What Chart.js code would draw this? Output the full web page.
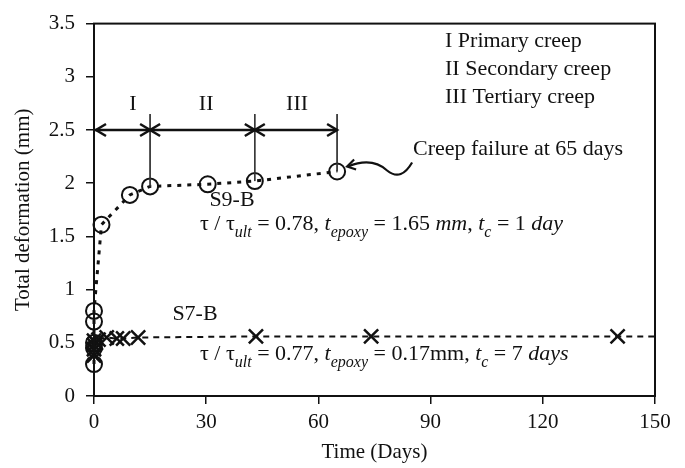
<!DOCTYPE html>
<html><head><meta charset="utf-8">
<script src="https://cdn.jsdelivr.net/npm/chart.js@4.4.1/dist/chart.umd.min.js"></script>
<style>html,body{margin:0;padding:0;background:#fff;}</style>
</head><body>
<canvas id="c" width="685" height="468"></canvas>
<script>
// ---- data ----
const s9Days = [0, 0, 0, 0, 0, 2, 9.6, 15, 30.4, 43, 65];
const s9Def  = [0.30, 0.45, 0.50, 0.70, 0.80, 1.61, 1.89, 1.97, 1.99, 2.02, 2.11];
const s7Days = [0, 0, 0, 0, 0.5, 1.2, 3.4, 6.1, 7.8, 11.8, 43.3, 74.1, 140, 150];
const s7Def  = [0.38, 0.44, 0.48, 0.52, 0.50, 0.53, 0.55, 0.54, 0.54, 0.55, 0.56, 0.56, 0.56, 0.56];
const phaseDays = [0, 15, 43, 65];
const phaseDef = [1.97, 2.02, 2.11];     // deformation where each phase boundary line ends
const phaseLabels = ['I', 'II', 'III'];
const phaseLabelDays = [10.4, 30, 54.3];
const arrowLevel = 2.5;
const guideTop = 2.65;
const xTicks = [0, 30, 60, 90, 120, 150];
const yTicks = [0, 0.5, 1, 1.5, 2, 2.5, 3, 3.5];
const legendLines = ['I Primary creep', 'II Secondary creep', 'III Tertiary creep'];

const FONT = "'Liberation Serif', 'Times New Roman', serif";
const pts = (xs, ys) => xs.map((x, i) => ({x, y: ys[i]}));

const datasets = [];
// phase boundary guide lines
for (let i = 1; i < phaseDays.length; i++) {
  datasets.push({data: [{x: phaseDays[i], y: guideTop}, {x: phaseDays[i], y: phaseDef[i-1]}],
    showLine: true, borderColor: '#333', borderWidth: 1, pointRadius: 0, clip: false});
}
// horizontal arrow line
datasets.push({data: [{x: phaseDays[0], y: arrowLevel}, {x: phaseDays[phaseDays.length-1], y: arrowLevel}],
  showLine: true, borderColor: '#111', borderWidth: 2.5, pointRadius: 0, clip: false});
// S9-B
datasets.push({label: 'S9-B', data: pts(s9Days, s9Def), showLine: true,
  borderColor: '#111', borderWidth: 3, borderDash: [4, 6], borderCapStyle: 'butt',
  pointStyle: 'circle', pointRadius: 8, pointBorderWidth: 2, pointBorderColor: '#111',
  pointBackgroundColor: 'rgba(0,0,0,0)', clip: false});
// S7-B
datasets.push({label: 'S7-B', data: pts(s7Days, s7Def), showLine: true,
  borderColor: '#111', borderWidth: 2, borderDash: [6, 5],
  pointStyle: 'crossRot', pointRadius: s7Days.map((d, i) => i === s7Days.length - 1 ? 0 : 10),
  pointBorderWidth: 2.5, pointBorderColor: '#111', clip: false});

function rich(ctx, x, y, runs, size) {
  let cx = x;
  for (const r of runs) {
    const fs = r.sub ? Math.round(size * 0.72) : size;
    ctx.font = (r.it ? 'italic ' : '') + fs + 'px ' + FONT;
    ctx.fillText(r.t, cx, y + (r.sub ? size * 0.32 : 0));
    cx += ctx.measureText(r.t).width;
  }
}

const deco = {
  id: 'deco',
  afterDatasetsDraw(chart) {
    const {ctx, chartArea: a, scales: {x, y}} = chart;
    ctx.save();
    // box
    ctx.strokeStyle = '#111'; ctx.lineWidth = 2;
    ctx.strokeRect(a.left, a.top, a.right - a.left, a.bottom - a.top);
    // arrowheads
    const ay = y.getPixelForValue(arrowLevel);
    ctx.lineWidth = 2.5; ctx.lineJoin = 'miter';
    const head = (px, dir) => { // dir -1: tip pointing left, +1: pointing right
      ctx.beginPath();
      ctx.moveTo(px - dir * 10, ay - 6); ctx.lineTo(px, ay); ctx.lineTo(px - dir * 10, ay + 6);
      ctx.stroke();
    };
    phaseDays.forEach((d, i) => {
      const px = x.getPixelForValue(d) + (i === 0 ? 2 : 0);
      if (i > 0) head(px, 1);
      if (i < phaseDays.length - 1) head(px, -1);
    });
    // squiggle arrow to failure point
    const fx = x.getPixelForValue(phaseDays[3]), fy = y.getPixelForValue(phaseDef[2]);
    ctx.lineWidth = 2.2;
    ctx.beginPath();
    ctx.moveTo(fx + 75, fy - 9);
    ctx.bezierCurveTo(fx + 68, fy + 3, fx + 60, fy + 7, fx + 50, fy - 1);
    ctx.bezierCurveTo(fx + 40, fy - 10, fx + 28, fy - 12, fx + 11, fy - 5);
    ctx.stroke();
    ctx.beginPath();
    ctx.moveTo(fx + 17, fy - 12); ctx.lineTo(fx + 10, fy - 5); ctx.lineTo(fx + 19, fy - 2);
    ctx.stroke();
    // texts
    ctx.fillStyle = '#111';
    ctx.textBaseline = 'alphabetic';
    ctx.font = '22px ' + FONT;
    ctx.textAlign = 'center';
    phaseLabels.forEach((t, i) => ctx.fillText(t, x.getPixelForValue(phaseLabelDays[i]), ay - 20));
    ctx.textAlign = 'left';
    legendLines.forEach((t, i) => ctx.fillText(t, 445, 47 + i * 28));
    ctx.fillText('Creep failure at 65 days', 413, 155);
    ctx.textAlign = 'center';
    ctx.fillText('S9-B', 232, 206);
    ctx.fillText('S7-B', 195, 320);
    ctx.textAlign = 'left';
    rich(ctx, 200, 230, [
      {t: 'τ / τ'}, {t: 'ult', sub: true, it: true}, {t: ' = 0.78, '}, {t: 't', it: true},
      {t: 'epoxy', sub: true, it: true}, {t: ' = 1.65 '}, {t: 'mm', it: true}, {t: ', '},
      {t: 't', it: true}, {t: 'c', sub: true, it: true}, {t: ' = 1 '}, {t: 'day', it: true}], 22);
    rich(ctx, 200, 360, [
      {t: 'τ / τ'}, {t: 'ult', sub: true, it: true}, {t: ' = 0.77, '}, {t: 't', it: true},
      {t: 'epoxy', sub: true, it: true}, {t: ' = 0.17mm, '},
      {t: 't', it: true}, {t: 'c', sub: true, it: true}, {t: ' = 7 '}, {t: 'days', it: true}], 22);
    ctx.restore();
  }
};

new Chart(document.getElementById('c'), {
  type: 'scatter',
  data: {datasets},
  options: {
    responsive: false, animation: false, devicePixelRatio: 1,
    layout: {padding: {left: 0, right: 30, top: 15, bottom: 0}},
    plugins: {legend: {display: false}, tooltip: {enabled: false}},
    scales: {
      x: {
        type: 'linear', min: 0, max: 150,
        afterBuildTicks: s => { s.ticks = xTicks.map(v => ({value: v})); },
        afterFit: s => { s.height = 72; },
        ticks: {color: '#111', font: {family: FONT, size: 21}, padding: 6, callback: v => String(v)},
        grid: {drawOnChartArea: false, drawTicks: true, tickLength: 8, color: '#111', lineWidth: 1.5},
        border: {display: true, color: '#111', width: 2},
        title: {display: true, text: 'Time (Days)', color: '#111', font: {family: FONT, size: 21}, padding: {top: 0, bottom: 3}}
      },
      y: {
        min: 0, max: 3.5,
        afterBuildTicks: s => { s.ticks = yTicks.map(v => ({value: v})); },
        afterFit: s => { s.width = 94; },
        ticks: {color: '#111', font: {family: FONT, size: 21}, padding: 11, callback: v => String(v)},
        grid: {drawOnChartArea: false, drawTicks: true, tickLength: 8, color: '#111', lineWidth: 1.5},
        border: {display: true, color: '#111', width: 2},
        title: {display: true, text: 'Total deformation (mm)', color: '#111', font: {family: FONT, size: 21}, padding: {top: 11, bottom: 0}}
      }
    }
  },
  plugins: [deco]
});
</script>
</body></html>
